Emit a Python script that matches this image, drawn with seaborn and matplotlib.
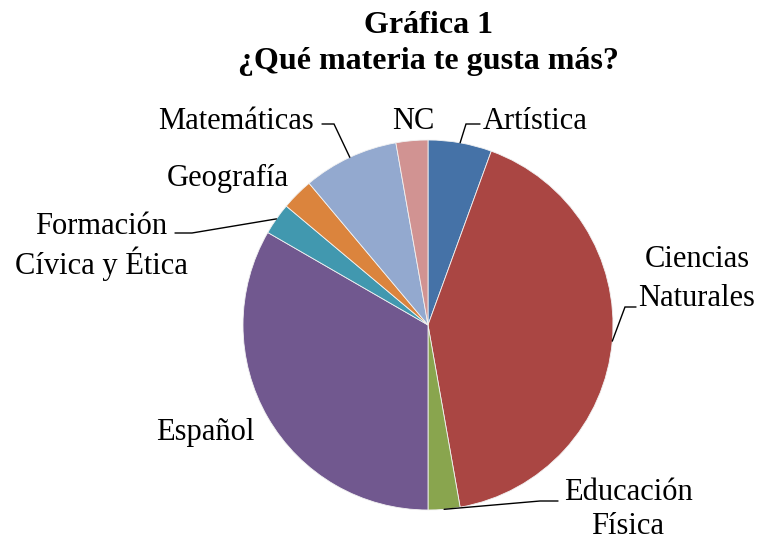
import numpy as np
import matplotlib
matplotlib.use("Agg")
import matplotlib.pyplot as plt
import seaborn as sns

categories = ["Artística", "Ciencias\nNaturales", "Educación\nFísica", "Español",
              "Formación\nCívica y Ética", "Geografía", "Matemáticas", "NC"]
values = [2, 15, 1, 12, 1, 1, 3, 1]
colors = ["#4572A7", "#AA4643", "#89A54E", "#71588F",
          "#4198AF", "#DB843D", "#93A9CF", "#D19392"]
title = "Gráfica 1\n¿Qué materia te gusta más?"

sns.set_theme(style="white")
plt.rcParams["font.family"] = ["Liberation Serif", "DejaVu Serif"]

W, H = 762, 541
fig = plt.figure(figsize=(W / 100, H / 100), dpi=100)
ax = fig.add_axes([0, 0, 1, 1])

def P(x, y):
    return (x, H - y)

cx, cy, R = 428, 325, 185
wedges, _ = ax.pie(values, colors=sns.color_palette(colors), startangle=90,
                   counterclock=False, center=P(cx, cy), radius=R, frame=True,
                   wedgeprops=dict(edgecolor="#f2f2f2", linewidth=0.6))
ax.set_xlim(0, W)
ax.set_ylim(0, H)
ax.set_aspect("equal")
ax.axis("off")

fs = 22
# label layout: (text x, first baseline y, line gap, leader elbow, leader end) in pixels
layout = {
    0: dict(x=535, y=129, gap=38, elbow=(466, 124), end=(480, 124)),
    1: dict(x=697, y=267, gap=39, elbow=(625, 307), end=(636, 307)),
    2: dict(x=628, y=500, gap=34, elbow=(540, 501), end=(558, 501)),
    3: dict(x=205, y=440, gap=38),
    4: dict(x=101, y=234, gap=40, elbow=(192, 233), end=(175, 233)),
    5: dict(x=228, y=186, gap=38),
    6: dict(x=236, y=129, gap=38, elbow=(334, 124), end=(322, 124)),
    7: dict(x=413, y=129, gap=38),
}
for i, (w, lab) in enumerate(zip(wedges, categories)):
    L = layout[i]
    for k, line in enumerate(lab.split("\n")):
        ax.text(*P(L["x"], L["y"] + k * L["gap"]), line, ha="center", va="baseline",
                fontsize=fs, color="black")
    if "elbow" in L:
        th = np.deg2rad((w.theta1 + w.theta2) / 2)
        px = w.center[0] + R * np.cos(th)
        py = w.center[1] + R * np.sin(th)
        ex, ey = P(*L["elbow"])
        tx, ty = P(*L["end"])
        ax.plot([px, ex, tx], [py, ey, ty], color="black", lw=1.0,
                solid_joinstyle="miter")

for k, line in enumerate(title.split("\n")):
    ax.text(*P(428, 33 + k * 36), line, ha="center", va="baseline", fontsize=23,
            fontweight="bold", color="black")

fig.savefig("out.png", dpi=100, facecolor="white")
